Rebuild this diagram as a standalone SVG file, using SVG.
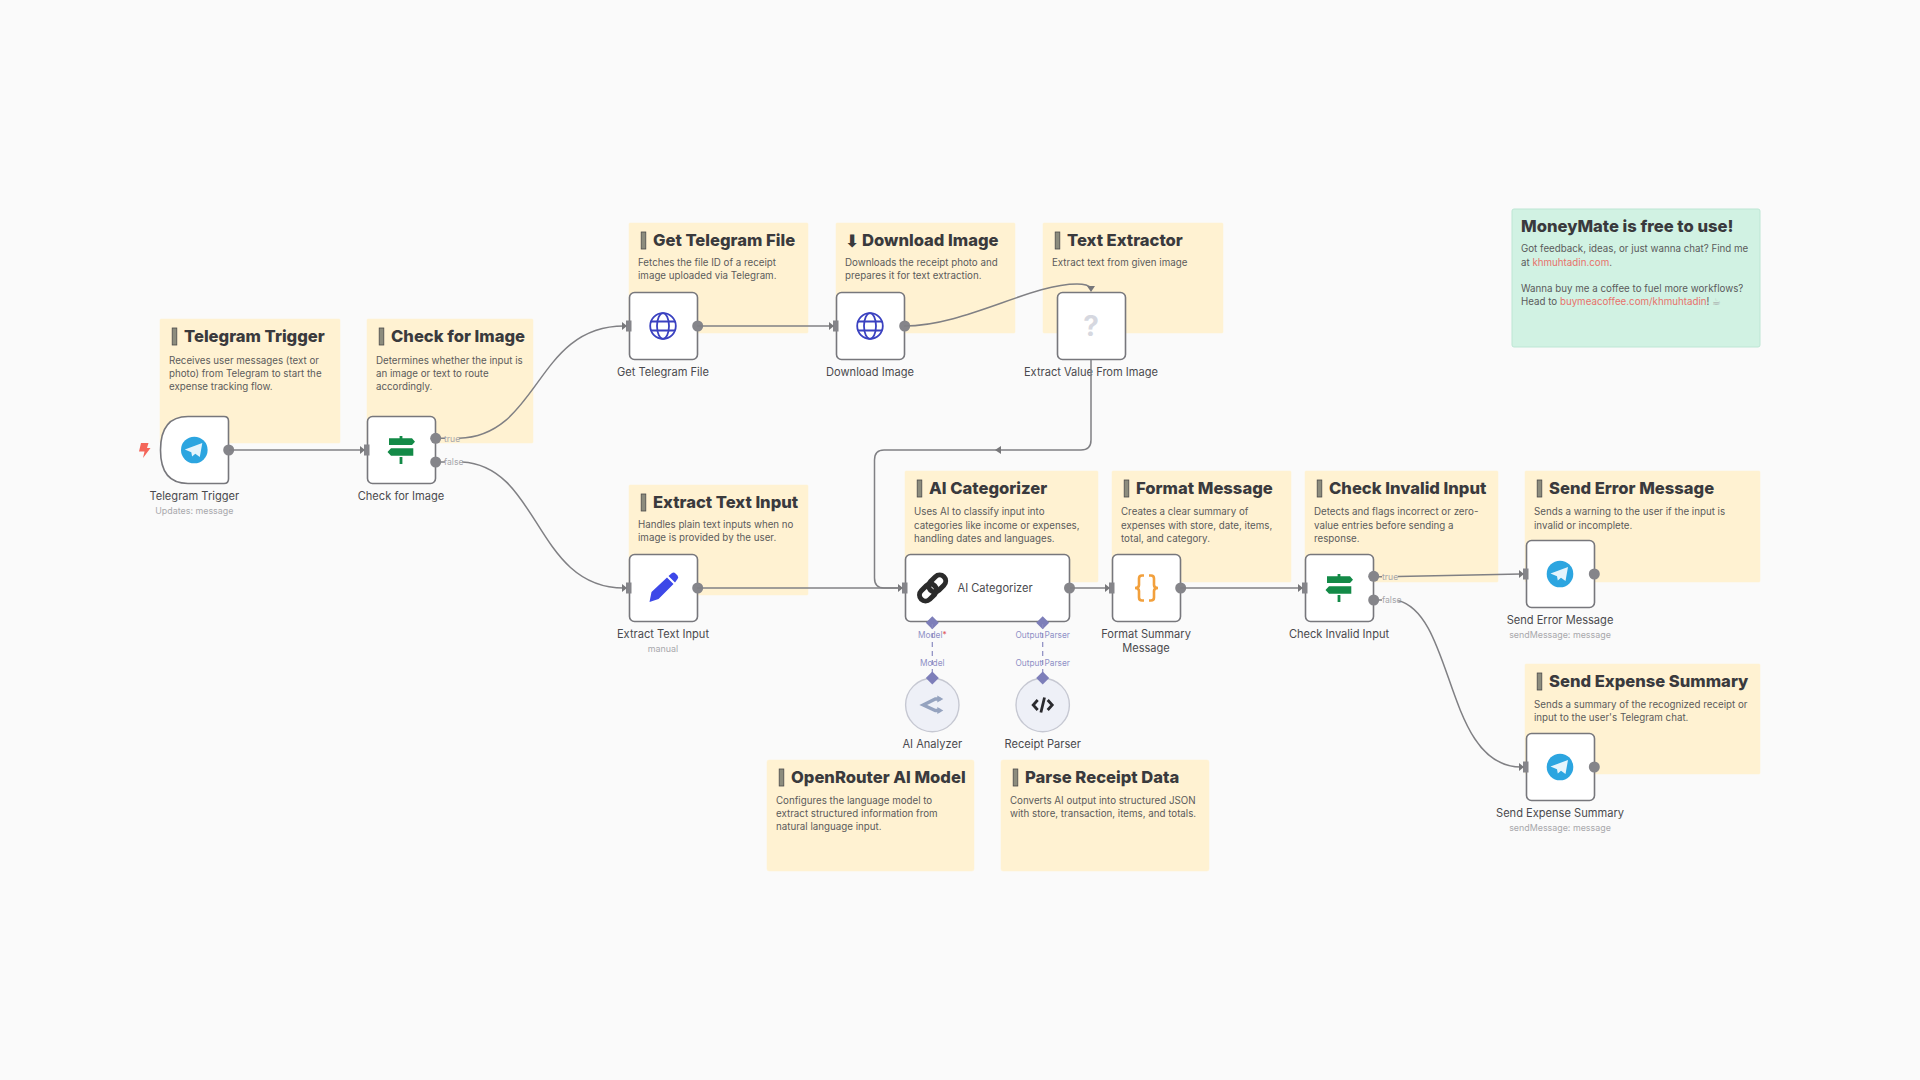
<svg xmlns="http://www.w3.org/2000/svg" width="1920" height="1080" viewBox="0 0 1920 1080">
<style>
text{font-family:Inter,"Liberation Sans",sans-serif}
.nb{fill:#fff2d2;stroke:#fff2d2;stroke-width:.5}
.nt{font-size:16.6px;font-weight:800;fill:#3a3a3d}
.nd{font-size:9.75px;fill:#5b5b5b}
.tf{fill:#77777a}
.box{fill:#fff;stroke:#77777c;stroke-width:1.6}
.lb{font-size:11.1px;fill:#4a4a4e;text-anchor:middle}
.sb{font-size:8.9px;fill:#a8a8ac;text-anchor:middle}
.pt{fill:#85858a}
.ip{fill:#85858a}
.e{fill:none;stroke:#808084;stroke-width:1.5}
.el{font-size:8.6px;fill:#a6a6aa}
.cl{font-size:8.3px;fill:#8f90c6;text-anchor:middle}
.dm{fill:#7d7eb9}
.glb{fill:none;stroke:#3a41c0;stroke-width:1.8}
.lk{fill:#e8716a}
</style>
<defs>
<path id="tg-plane" fill="#fff" opacity=".88" d="M-9.500,-.5 L8,-7 L5.500,7 L1,3.800 L-2.200,6.500 L-3,2.200 Z"/>
<g id="tg"><circle r="13.300" fill="#2ca5e0"/><use href="#tg-plane"/></g>
<g id="sign" fill="#138a47"><path d="M-12,-11.700 H11 L14,-8.300 L11,-5 H-12 Z M-10,-1.700 H12.300 V5.700 H-10 L-13.500,2 Z"/><rect x="-1.400" y="-14" width="2.800" height="3"/><rect x="-1.400" y="7" width="2.800" height="7"/></g>
<g id="globe" class="glb"><circle r="12.800"/><ellipse rx="6" ry="12.800"/><path d="M-12,-4.500 H12 M-12,4.500 H12"/></g>
<rect id="inp" class="ip" x="-3" y="-5.500" width="5.500" height="11"/>
<path id="arr" class="tf" d="M-5,-4 L0,0 L-5,4 Z"/>
<path id="dia" class="dm" d="M0,-6.500 L6.500,0 L0,6.500 L-6.500,0 Z"/>
<rect id="tofu" x="12.200" y="9" width="4.600" height="17" fill="#8c8c7e" stroke="#4a4a4a" stroke-width=".8"/>
</defs>
<rect width="1920" height="1080" fill="#fafafa"/>

<g id="note-telegram-trigger" transform="translate(160,319)"><rect class="nb" width="180" height="124" rx="1"/><use href="#tofu"/><text class="nt" x="24" y="23">Telegram Trigger</text><text class="nd" x="9" y="45">Receives user messages (text or</text><text class="nd" x="9" y="58">photo) from Telegram to start the</text><text class="nd" x="9" y="71">expense tracking flow.</text></g>
<g id="note-check-image" transform="translate(367,319)"><rect class="nb" width="166" height="124" rx="1"/><use href="#tofu"/><text class="nt" x="24" y="23">Check for Image</text><text class="nd" x="9" y="45">Determines whether the input is</text><text class="nd" x="9" y="58">an image or text to route</text><text class="nd" x="9" y="71">accordingly.</text></g>
<g id="note-get-file" transform="translate(629,223)"><rect class="nb" width="179" height="110" rx="1"/><use href="#tofu"/><text class="nt" x="24" y="23">Get Telegram File</text><text class="nd" x="9" y="43">Fetches the file ID of a receipt</text><text class="nd" x="9" y="56">image uploaded via Telegram.</text></g>
<g id="note-download" transform="translate(836,223)"><rect class="nb" width="179" height="110" rx="1"/><text x="9" y="24" font-size="17" font-weight="700" fill="#3a3a3d" style="font-family:'DejaVu Sans',sans-serif">⬇</text><text class="nt" x="26" y="23">Download Image</text><text class="nd" x="9" y="43">Downloads the receipt photo and</text><text class="nd" x="9" y="56">prepares it for text extraction.</text></g>
<g id="note-text-extractor" transform="translate(1043,223)"><rect class="nb" width="180" height="110" rx="1"/><use href="#tofu"/><text class="nt" x="24" y="23">Text Extractor</text><text class="nd" x="9" y="43">Extract text from given image</text></g>
<g id="note-extract-text" transform="translate(629,485)"><rect class="nb" width="179" height="110" rx="1"/><use href="#tofu"/><text class="nt" x="24" y="23">Extract Text Input</text><text class="nd" x="9" y="43">Handles plain text inputs when no</text><text class="nd" x="9" y="56">image is provided by the user.</text></g>
<g id="note-ai-categorizer" transform="translate(905,471)"><rect class="nb" width="193" height="111" rx="1"/><use href="#tofu"/><text class="nt" x="24" y="23">AI Categorizer</text><text class="nd" x="9" y="44">Uses AI to classify input into</text><text class="nd" x="9" y="58">categories like income or expenses,</text><text class="nd" x="9" y="71">handling dates and languages.</text></g>
<g id="note-format" transform="translate(1112,471)"><rect class="nb" width="179" height="111" rx="1"/><use href="#tofu"/><text class="nt" x="24" y="23">Format Message</text><text class="nd" x="9" y="44">Creates a clear summary of</text><text class="nd" x="9" y="58">expenses with store, date, items,</text><text class="nd" x="9" y="71">total, and category.</text></g>
<g id="note-check-invalid" transform="translate(1305,471)"><rect class="nb" width="193" height="111" rx="1"/><use href="#tofu"/><text class="nt" x="24" y="23">Check Invalid Input</text><text class="nd" x="9" y="44">Detects and flags incorrect or zero-</text><text class="nd" x="9" y="58">value entries before sending a</text><text class="nd" x="9" y="71">response.</text></g>
<g id="note-send-error" transform="translate(1525,471)"><rect class="nb" width="235" height="111" rx="1"/><use href="#tofu"/><text class="nt" x="24" y="23">Send Error Message</text><text class="nd" x="9" y="44">Sends a warning to the user if the input is</text><text class="nd" x="9" y="58">invalid or incomplete.</text></g>
<g id="note-send-expense" transform="translate(1525,664)"><rect class="nb" width="235" height="110" rx="1"/><use href="#tofu"/><text class="nt" x="24" y="23">Send Expense Summary</text><text class="nd" x="9" y="44">Sends a summary of the recognized receipt or</text><text class="nd" x="9" y="57">input to the user's Telegram chat.</text></g>
<g id="note-openrouter" transform="translate(767,760)"><rect class="nb" width="207" height="111" rx="2"/><use href="#tofu"/><text class="nt" x="24" y="23">OpenRouter AI Model</text><text class="nd" x="9" y="44">Configures the language model to</text><text class="nd" x="9" y="57">extract structured information from</text><text class="nd" x="9" y="70">natural language input.</text></g>
<g id="note-parse" transform="translate(1001,760)"><rect class="nb" width="208" height="111" rx="2"/><use href="#tofu"/><text class="nt" x="24" y="23">Parse Receipt Data</text><text class="nd" x="9" y="44">Converts AI output into structured JSON</text><text class="nd" x="9" y="57">with store, transaction, items, and totals.</text></g>
<g id="note-moneymate" transform="translate(1512,209)"><rect width="248" height="138" rx="2" fill="#d1f2e3" stroke="#bde6d4"/><text class="nt" x="9" y="23">MoneyMate is free to use!</text><text class="nd" x="9" y="43">Got feedback, ideas, or just wanna chat? Find me</text><text class="nd" x="9" y="57">at <tspan class="lk">khmuhtadin.com</tspan>.</text><text class="nd" x="9" y="83">Wanna buy me a coffee to fuel more workflows?</text><text class="nd" x="9" y="96">Head to <tspan class="lk">buymeacoffee.com/khmuhtadin</tspan>! <tspan fill="#a0a0a0" style="font-family:'DejaVu Sans',sans-serif">☕</tspan></text></g>

<g id="node-telegram-trigger" transform="translate(160,416)"><path class="box" d="M28,.5 H64 Q68.500,.5 68.500,5 V63 Q68.500,67.500 64,67.500 H28 Q.5,67.500 .5,34 Q.5,.5 28,.5 Z"/><use href="#tg" x="34.300" y="34"/><path fill="#f4665a" d="M-19,27 L-11.500,27 L-13,32 L-9.500,32 L-17,42 L-15.500,35.500 L-21,35.500 Z"/><circle class="pt" cx="68.700" cy="34" r="5.500"/><text class="lb" x="34.300" y="84">Telegram Trigger</text><text class="sb" x="34.300" y="98">Updates: message</text></g>
<g id="node-check-image" transform="translate(367,416)"><rect class="box" x=".5" y=".5" width="68" height="67" rx="5"/><use href="#sign" x="34" y="34"/><use href="#inp" x="0" y="34"/><circle class="pt" cx="68.700" cy="22.300" r="5.500"/><circle class="pt" cx="68.700" cy="46" r="5.500"/><text class="lb" x="34" y="84">Check for Image</text></g>
<g id="node-get-file" transform="translate(629,292)"><rect class="box" x=".5" y=".5" width="68" height="67" rx="5"/><use href="#globe" x="34" y="34"/><use href="#inp" x="0" y="34"/><circle class="pt" cx="68.700" cy="34" r="5.500"/><text class="lb" x="34" y="84">Get Telegram File</text></g>
<g id="node-download" transform="translate(836,292)"><rect class="box" x=".5" y=".5" width="68" height="67" rx="5"/><use href="#globe" x="34" y="34"/><use href="#inp" x="0" y="34"/><circle class="pt" cx="68.700" cy="34" r="5.500"/><text class="lb" x="34" y="84">Download Image</text></g>
<g id="node-extract-value" transform="translate(1057,292)"><rect class="box" x=".5" y=".5" width="68" height="67" rx="5"/><text x="34" y="44" text-anchor="middle" font-size="28" font-weight="700" fill="#d6d8e0">?</text><text class="lb" x="34" y="84">Extract Value From Image</text></g>
<g id="node-extract-text" transform="translate(629,554)"><rect class="box" x=".5" y=".5" width="68" height="67" rx="5"/><path fill="#3d48e8" d="M20.500,48 L22.500,38 L38,23.500 L44.500,30 L29.500,45 Z M39.500,22 L43,19 Q45,18 46.500,19.500 L48.500,21.500 Q50,23.500 48.500,25 L46,28.500 Z"/><use href="#inp" x="0" y="34"/><circle class="pt" cx="68.700" cy="34" r="5.500"/><text class="lb" x="34" y="84">Extract Text Input</text><text class="sb" x="34" y="98">manual</text></g>
<g id="node-ai-categorizer" transform="translate(905,554)"><rect class="box" x=".5" y=".5" width="164" height="67" rx="5"/><g fill="none" stroke="#2b2b2b" stroke-width="5" transform="translate(27.600,34) rotate(-45)"><rect x="-16" y="-6" width="19" height="12" rx="6"/><rect x="-3" y="-6" width="19" height="12" rx="6"/></g><text x="52.500" y="38" font-size="11.100" fill="#4a4a4e">AI Categorizer</text><use href="#inp" x="0" y="34"/><circle class="pt" cx="164.500" cy="34" r="5.500"/><use href="#dia" x="27.300" y="68.700"/><use href="#dia" x="137.700" y="68.700"/></g>
<g id="node-format" transform="translate(1112,554)"><rect class="box" x=".5" y=".5" width="68" height="67" rx="5"/><path fill="none" stroke="#f2a03c" stroke-width="2.600" d="M32,21.500 H30 Q27,21.500 27,24.500 V31 Q27,34 23,34 Q27,34 27,37 V43.500 Q27,46.500 30,46.500 H32 M37,21.500 H39 Q42,21.500 42,24.500 V31 Q42,34 46,34 Q42,34 42,37 V43.500 Q42,46.500 39,46.500 H37"/><use href="#inp" x="0" y="34"/><circle class="pt" cx="68.700" cy="34" r="5.500"/><text class="lb" x="34" y="84">Format Summary</text><text class="lb" x="34" y="98">Message</text></g>
<g id="node-check-invalid" transform="translate(1305,554)"><rect class="box" x=".5" y=".5" width="68" height="67" rx="5"/><use href="#sign" x="34" y="34"/><use href="#inp" x="0" y="34"/><circle class="pt" cx="68.700" cy="22.300" r="5.500"/><circle class="pt" cx="68.700" cy="46" r="5.500"/><text class="lb" x="34" y="84">Check Invalid Input</text></g>
<g id="node-send-error" transform="translate(1526,540)"><rect class="box" x=".5" y=".5" width="68" height="67" rx="5"/><use href="#tg" x="34" y="34"/><use href="#inp" x="0" y="34"/><circle class="pt" cx="68.300" cy="34" r="5.500"/><text class="lb" x="34" y="84">Send Error Message</text><text class="sb" x="34" y="98">sendMessage: message</text></g>
<g id="node-send-expense" transform="translate(1526,733)"><rect class="box" x=".5" y=".5" width="68" height="67" rx="5"/><use href="#tg" x="34" y="34"/><use href="#inp" x="0" y="34"/><circle class="pt" cx="68.300" cy="34" r="5.500"/><text class="lb" x="34" y="84">Send Expense Summary</text><text class="sb" x="34" y="98">sendMessage: message</text></g>
<g id="node-ai-analyzer" transform="translate(932.300,705)"><circle r="26.700" fill="#eef0f7" stroke="#c6c8d2" stroke-width="1.400"/><path fill="none" stroke="#95a3bf" stroke-width="3.400" d="M8,-6 H3 L-9,0 L3,5.500 H8"/><path fill="#95a3bf" d="M5,-9.500 L11,-6 L5,-2.500 Z M5,2 L11,5.500 L5,9 Z"/><text class="lb" x="0" y="43">AI Analyzer</text></g>
<g id="node-receipt-parser" transform="translate(1042.700,705)"><circle r="26.700" fill="#eef0f7" stroke="#c6c8d2" stroke-width="1.400"/><path fill="none" stroke="#2a2a2e" stroke-width="2.800" d="M-5,-5 L-9.500,0 L-5,5 M5,-5 L9.500,0 L5,5 M1.800,-7.500 L-1.800,7.500"/><text class="lb" x="0" y="43">Receipt Parser</text></g>

<g id="connectors">
<path class="e" d="M229,450 H360"/><use href="#arr" x="365" y="450"/>
<path class="e" d="M441,438.300 H445 M459,438.300 C540,436 535,326 624,326"/><use href="#arr" x="627" y="326"/>
<path class="e" d="M441,462 H445 M462,462 C540,466 535,588 624,588"/><use href="#arr" x="627" y="588"/>
<path class="e" d="M697,326 H831"/><use href="#arr" x="834" y="326"/>
<path class="e" d="M904,326 C965,326 1030,284 1077,284 Q1088,284 1091,288"/><path class="tf" d="M1087,286 H1095 L1091,292 Z"/>
<path class="e" d="M1091,360 V440 Q1091,450 1081,450 H884 Q874.500,450 874.500,460 V578 Q874.500,588 884,588 H900"/><path class="tf" d="M995,450 L1001,446 V454 Z"/><use href="#arr" x="903" y="588"/>
<path class="e" d="M697,588 H900"/>
<path class="e" d="M1070,588 H1106"/><use href="#arr" x="1110" y="588"/>
<path class="e" d="M1180,588 H1300"/><use href="#arr" x="1303" y="588"/>
<path class="e" d="M1379,576.700 H1382 M1398,576.500 L1521,574"/><use href="#arr" x="1524" y="574"/>
<path class="e" d="M1379,600 H1382 M1398,600.500 C1455,615 1445,767 1521,767"/><use href="#arr" x="1524" y="767"/>
<path d="M932.300,624 V678 M1042.700,624 V678" fill="none" stroke="#8a8bc0" stroke-width="1.200" stroke-dasharray="5 4"/>
<use href="#dia" x="932.300" y="678"/><use href="#dia" x="1042.700" y="678"/>
<text class="el" x="444" y="441.500">true</text><text class="el" x="444" y="465">false</text>
<text class="el" x="1382" y="579.500">true</text><text class="el" x="1382" y="603">false</text>
<text class="cl" x="932.300" y="638">Model<tspan fill="#e0595a">*</tspan></text><text class="cl" x="932.300" y="666">Model</text>
<text class="cl" x="1042.700" y="638">Output Parser</text><text class="cl" x="1042.700" y="666">Output Parser</text>
</g>
</svg>
